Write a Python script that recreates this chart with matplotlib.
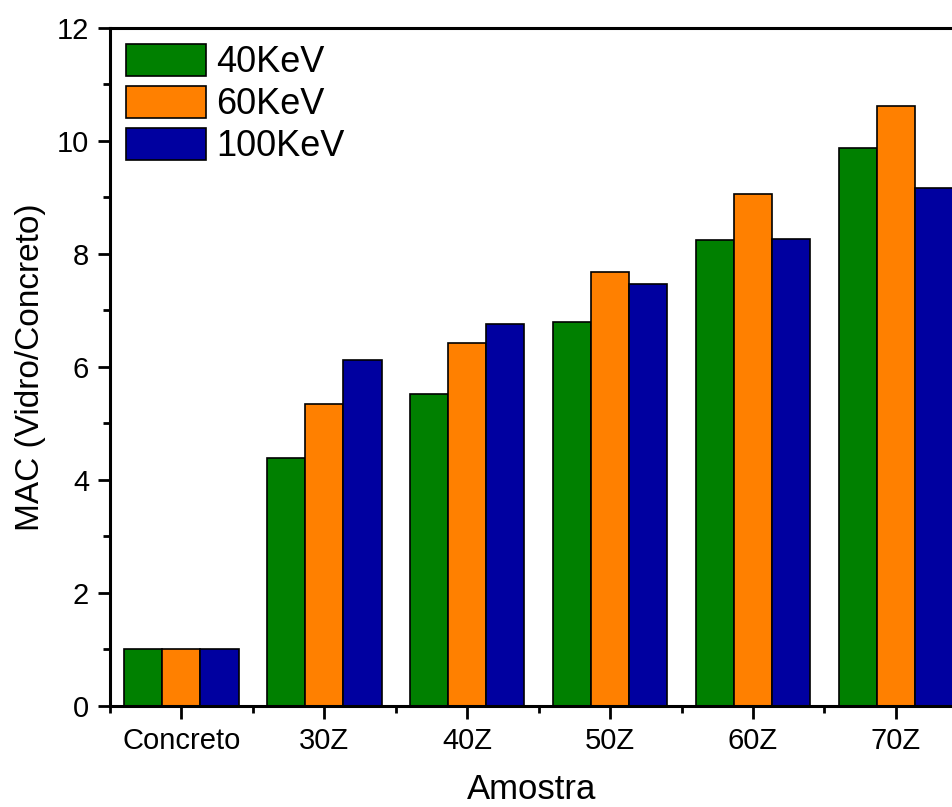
import numpy as np
import matplotlib
matplotlib.use("Agg")
from matplotlib import pyplot as plt
from matplotlib.ticker import MultipleLocator

# data
samples = ["Concreto", "30Z", "40Z", "50Z", "60Z", "70Z"]
kev40 = [1.0, 4.38, 5.52, 6.80, 8.24, 9.87]
kev60 = [1.0, 5.35, 6.43, 7.67, 9.05, 10.62]
kev100 = [1.0, 6.12, 6.76, 7.46, 8.26, 9.16]
series_labels = ["40KeV", "60KeV", "100KeV"]
series_colors = ["#008000", "#FF8000", "#0000A0"]

plt.rcParams["font.family"] = ["Liberation Sans", "DejaVu Sans"]

fig = plt.figure(figsize=(9.53, 8.07), dpi=100)
ax = fig.add_axes([0.1154, 0.1252, 0.8846, 0.8405])

x = np.arange(len(samples))
w = 0.267
for i, (vals, lab, col) in enumerate(zip([kev40, kev60, kev100], series_labels, series_colors)):
    ax.bar(x + (i - 1) * w, vals, width=w, color=col, edgecolor="black",
           linewidth=1.2, label=lab)

ax.set_xlim(-0.5, 5.4)
ax.set_ylim(0, 12)
ax.set_xticks(x)
ax.set_xticklabels(samples)
ax.xaxis.set_minor_locator(MultipleLocator(1, offset=0.5))
ax.yaxis.set_major_locator(MultipleLocator(2))
ax.yaxis.set_minor_locator(MultipleLocator(1))
ax.tick_params(which="major", direction="out", length=9, width=2, labelsize=21, pad=6)
ax.tick_params(which="minor", direction="out", length=5, width=2)
for s in ax.spines.values():
    s.set_linewidth(2.2)
ax.spines["right"].set_visible(False)

ax.set_xlabel("Amostra", fontsize=25, labelpad=13)
ax.set_ylabel("MAC (Vidro/Concreto)", fontsize=24, labelpad=8)

ax.legend(loc="upper left", frameon=False, fontsize=26, handlelength=2.2,
          handleheight=1.0, handletextpad=0.3, labelspacing=0.15,
          borderpad=0.35, borderaxespad=0.1)

fig.savefig("out.png", dpi=100)
